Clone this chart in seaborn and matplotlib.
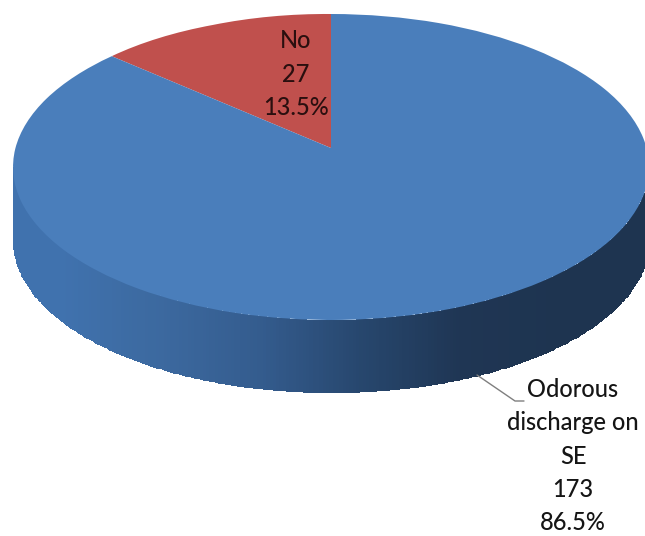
import numpy as np
import matplotlib
matplotlib.use("Agg")
import matplotlib.pyplot as plt
from matplotlib.transforms import Transform
import seaborn as sns

categories = ["No", "Odorous\ndischarge on\nSE"]
counts = [27, 173]
percents = ["13.5%", "86.5%"]
colors = ["#C0504D", "#4A7EBB"]
side_colors = ["#4072AE", "#3C699F", "#345C8E", "#27476E", "#1F3654", "#1E3450"]

CX, CY, RX, RY, DEPTH = 331.0, 167.0, 318.0, 153.0, 72.0
APEX_DY = 0.124          # perspective shift of the pie centre on the top face
LEFT_EDGE = 133.6        # on-screen angle of the edge between the slices


class TiltedPie(Transform):
    """Unit-circle pie coordinates -> pixel-like data coords of a tilted disc."""
    input_dims = output_dims = 2

    def transform_non_affine(self, values):
        v = np.asarray(values, dtype=float)
        r = np.hypot(v[:, 0], v[:, 1])
        t = np.degrees(np.arctan2(v[:, 1], v[:, 0]))
        t = (t - 90) % 360 + 90
        split = 90 + 360 * counts[0] / sum(counts)
        t2 = np.radians(np.interp(t, [90, split, 450], [90, LEFT_EDGE, 450]))
        u = r * np.cos(t2)
        w = r * np.sin(t2) + np.clip(1 - r, 0, 1) * APEX_DY
        return np.column_stack([CX + RX * u, CY - RY * w])


sns.set_theme(style="white")
plt.rcParams["font.family"] = ["Lato", "DejaVu Sans"]

fig, ax = plt.subplots(figsize=(6.45, 5.36), dpi=100)
fig.subplots_adjust(0, 0, 1, 1)

wedges, _ = ax.pie(counts, colors=colors, startangle=90, counterclock=True,
                   wedgeprops={"linewidth": 0})
tilt = TiltedPie() + ax.transData
for w in wedges:
    w.set_transform(tilt)
    w.set_zorder(3)

ax.set_aspect("auto")
ax.set_xlim(0, 645)
ax.set_ylim(536, 0)
ax.set_axis_off()

# Side wall of the disc
theta = np.radians(np.linspace(180, 360, 300))
xs = CX + RX * np.cos(theta)
rim = CY - RY * np.sin(theta)
X = np.vstack([xs, xs])
Y = np.vstack([rim, rim + DEPTH])
cmap = sns.blend_palette(side_colors, as_cmap=True)
shade = 0.5 * (xs[:-1] + xs[1:])[None, :]
ax.pcolormesh(X, Y, shade, cmap=cmap, vmin=60, vmax=560, shading="flat",
              edgecolors="face", linewidth=0.6, zorder=2)

# Leader line
ax.plot([477, 515, 524], [375, 401, 401], color="#7F7F7F", lw=1.0, zorder=4)

# Labels
ax.text(296, 74, f"{categories[0]}\n{counts[0]}\n{percents[0]}", ha="center", va="center",
        fontsize=17, linespacing=1.55, color="#2A0F0F", fontweight="medium", zorder=5)
ax.text(573, 456, f"{categories[1]}\n{counts[1]}\n{percents[1]}", ha="center", va="center",
        fontsize=17, linespacing=1.55, color="#151515", fontweight="medium", zorder=5)

fig.savefig("out.png", dpi=100, facecolor="white")
